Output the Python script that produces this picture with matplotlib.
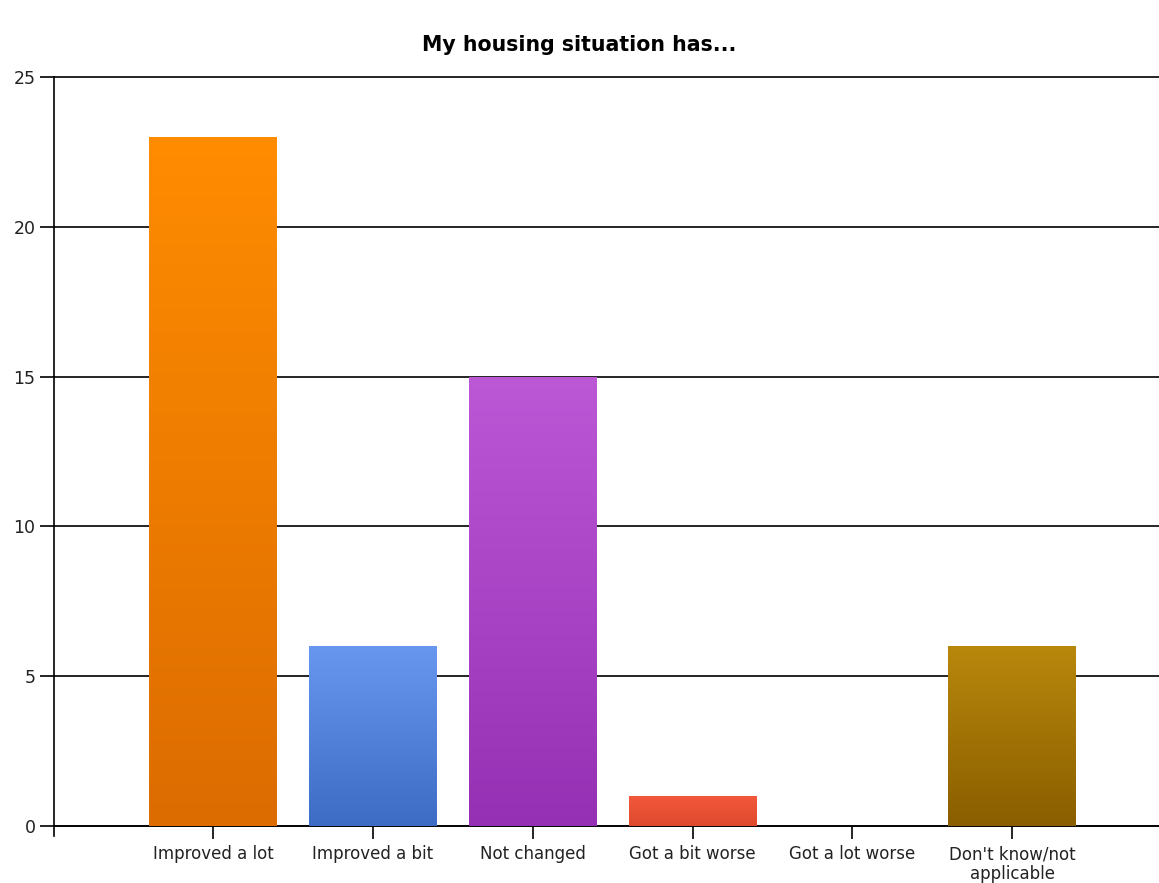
import matplotlib.pyplot as plt
import matplotlib.colors as mcolors
import numpy as np

# survey responses
categories = ["Improved a lot", "Improved a bit", "Not changed",
              "Got a bit worse", "Got a lot worse", "Don't know/not\napplicable"]
counts = [23, 6, 15, 1, 0, 6]

# (top, bottom) colour of each bar's vertical gradient
bar_colors = [("#FF8C00", "#DC6C00"),
              ("#6797EE", "#3C6CC4"),
              ("#BC58D6", "#9530B4"),
              ("#F2583A", "#DE4A2E"),
              ("#888888", "#666666"),
              ("#B8880C", "#8A5E00")]

y_ticks = [0, 5, 10, 15, 20, 25]


def gradient_bar(ax, rect, top, bottom):
    """Fill a bar patch with a vertical gradient from top to bottom colour."""
    x0, y0 = rect.get_x(), rect.get_y()
    w, h = rect.get_width(), rect.get_height()
    if h <= 0:
        return
    cmap = mcolors.LinearSegmentedColormap.from_list("g", [bottom, top])
    grad = np.linspace(0, 1, 256).reshape(-1, 1)
    im = ax.imshow(grad, cmap=cmap, aspect="auto", origin="lower",
                   extent=(x0, x0 + w, y0, y0 + h), zorder=3)
    im.set_clip_path(rect)
    rect.set_facecolor("none")


fig = plt.figure(figsize=(11.59, 8.83), dpi=100)
ax = fig.add_axes([0.0462, 0.0646, 0.9538, 0.8482])

x = np.arange(1, len(categories) + 1)
bars = ax.bar(x, counts, width=0.8, color="none", linewidth=0, zorder=3)
for rect, (top, bottom) in zip(bars, bar_colors):
    gradient_bar(ax, rect, top, bottom)

ax.set_xlim(0, 6.92)
ax.set_ylim(0, 25)
ax.set_yticks(y_ticks)
ax.set_xticks(x)
ax.set_xticklabels(categories, fontsize=12, color="#222222", linespacing=1.1)
ax.tick_params(axis="y", labelsize=12.5, labelcolor="#222222", length=10,
               width=1.2, pad=3)
ax.tick_params(axis="x", length=9, width=1.2, pad=5)

ax.grid(axis="y", color="black", linewidth=1.2, zorder=1)
for line in ax.get_ygridlines():
    line.set_clip_on(False)
ax.set_axisbelow(True)
for side in ["top", "right"]:
    ax.spines[side].set_visible(False)
ax.spines["left"].set_linewidth(1.2)
ax.spines["bottom"].set_linewidth(1.2)
ax.spines["left"].set_bounds(-0.35, 25)

fig.suptitle("My housing situation has...", fontsize=14.8, fontweight="bold",
             y=0.96, x=0.5)

fig.savefig("out.png", dpi=100)
